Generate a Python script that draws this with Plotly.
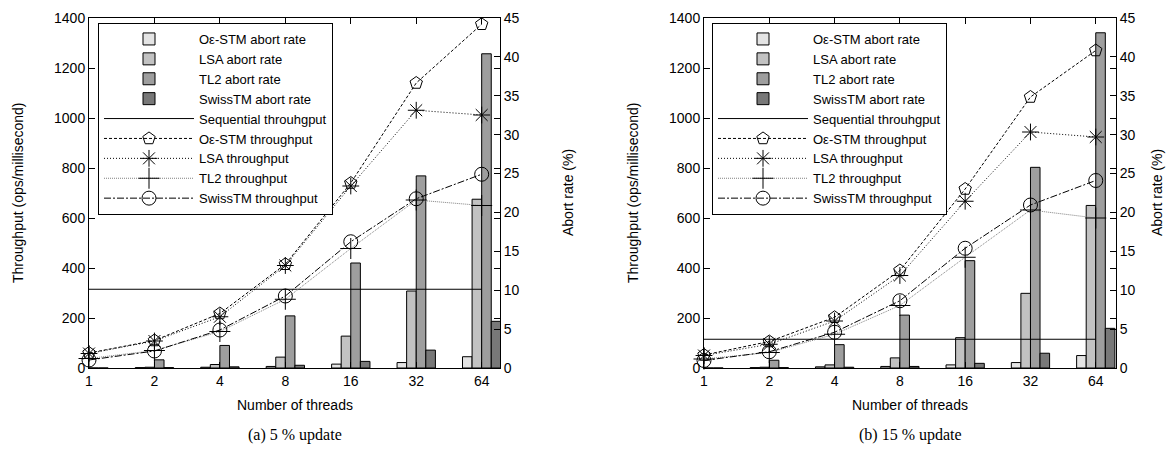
import plotly.graph_objects as go

threads = ["1", "2", "4", "8", "16", "32", "64"]
xi = list(range(len(threads)))

# (a) 5 % update
a_abort_oe = [0.0, 0.05, 0.1, 0.2, 0.5, 0.7, 1.45]
a_abort_lsa = [0.0, 0.1, 0.45, 1.4, 4.1, 9.9, 21.7]
a_abort_tl2 = [0.0, 1.05, 2.9, 6.7, 13.5, 24.7, 40.4]
a_abort_swiss = [0.0, 0.05, 0.15, 0.35, 0.85, 2.3, 6.0]
a_seq = 315
a_thr_oe = [60, 110, 218, 415, 740, 1140, 1375]
a_thr_lsa = [58, 108, 205, 410, 728, 1031, 1012]
a_thr_tl2 = [38, 70, 146, 275, 478, 672, 650]
a_thr_swiss = [32, 68, 152, 288, 505, 677, 775]

# (b) 15 % update
b_abort_oe = [0.0, 0.05, 0.15, 0.2, 0.4, 0.7, 1.6]
b_abort_lsa = [0.0, 0.1, 0.4, 1.3, 3.9, 9.6, 20.9]
b_abort_tl2 = [0.0, 1.0, 3.0, 6.8, 13.8, 25.8, 43.1]
b_abort_swiss = [0.0, 0.05, 0.1, 0.2, 0.6, 1.9, 5.1]
b_seq = 115
b_thr_oe = [52, 106, 203, 390, 716, 1084, 1270]
b_thr_lsa = [50, 95, 188, 370, 667, 944, 924]
b_thr_tl2 = [36, 62, 135, 250, 443, 632, 600]
b_thr_swiss = [30, 65, 143, 269, 479, 652, 750]

names_abort = ["O\u03b5-STM abort rate", "LSA abort rate", "TL2 abort rate", "SwissTM abort rate"]
names_thr = ["O\u03b5-STM throughput", "LSA throughput", "TL2 throughput", "SwissTM throughput"]
bar_colors = ["#e4e4e4", "#c2c2c2", "#9e9e9e", "#787878"]
line_styles = [
    dict(color="black", width=1, dash="3px,2px"),
    dict(color="black", width=1, dash="1px,2px"),
    dict(color="#808080", width=1, dash="1px,1px"),
    dict(color="black", width=1, dash="7px,2px,2px,2px"),
]
symbols = ["pentagon-open", "asterisk-open", "cross-thin-open", "circle-open"]
msizes = [13, 14, 15, 14]

FONT = "Liberation Sans"
fig = go.Figure()

panels = [
    ("x", "y", "y2", "legend",
     [a_abort_oe, a_abort_lsa, a_abort_tl2, a_abort_swiss], a_seq,
     [a_thr_oe, a_thr_lsa, a_thr_tl2, a_thr_swiss]),
    ("x2", "y3", "y4", "legend2",
     [b_abort_oe, b_abort_lsa, b_abort_tl2, b_abort_swiss], b_seq,
     [b_thr_oe, b_thr_lsa, b_thr_tl2, b_thr_swiss]),
]

for xa, ya_abort, ya_thr, leg, aborts, seq, thrs in panels:
    for name, vals, col in zip(names_abort, aborts, bar_colors):
        fig.add_trace(go.Bar(
            x=xi, y=vals, name=name, xaxis=xa, yaxis=ya_abort, legend=leg,
            marker=dict(color=col, line=dict(color="black", width=1)),
        ))
    fig.add_trace(go.Scatter(
        x=[xi[0], xi[-1]], y=[seq, seq], name="Sequential throuhgput",
        xaxis=xa, yaxis=ya_thr, legend=leg, mode="lines",
        line=dict(color="black", width=1), cliponaxis=False,
    ))
    for name, vals, ls, sym, ms in zip(names_thr, thrs, line_styles, symbols, msizes):
        fig.add_trace(go.Scatter(
            x=xi, y=vals, name=name, xaxis=xa, yaxis=ya_thr, legend=leg,
            mode="lines+markers", line=ls, cliponaxis=False,
            marker=dict(symbol=sym, size=ms, color="black",
                        line=dict(color="black", width=1)),
        ))

W, H = 1167, 454
T, B = 18, 86
PH = H - T - B


def px(x):
    return x / W


def py(y):
    return (H - B - y) / PH


tickfont = dict(family=FONT, size=14, color="black")
xcommon = dict(
    tickvals=xi, ticktext=threads, showline=True, linecolor="black", linewidth=1,
    mirror="ticks", ticks="inside", ticklen=6, tickcolor="black", showgrid=False,
    zeroline=False, tickfont=tickfont, automargin=False,
)
ythr = dict(
    range=[0, 1400], dtick=200, side="left", showline=True, linecolor="black",
    linewidth=1, mirror="ticks", ticks="inside", ticklen=6, tickcolor="black",
    showgrid=False, zeroline=False, tickfont=tickfont, automargin=False,
)
yab = dict(
    range=[0, 45], dtick=5, side="right", showline=True, linecolor="black",
    linewidth=1, ticks="inside", ticklen=6, tickcolor="black", showgrid=False,
    zeroline=False, tickfont=tickfont, automargin=False,
)

legcommon = dict(
    xanchor="left", yanchor="top", bgcolor="white", bordercolor="black",
    borderwidth=1, font=dict(family=FONT, size=13, color="black"),
    traceorder="normal", tracegroupgap=0, itemwidth=90,
)

fig.update_layout(
    template="none",
    width=W, height=H, margin=dict(l=0, r=0, t=T, b=B, autoexpand=False),
    paper_bgcolor="white", plot_bgcolor="white",
    barmode="group", bargap=0.414, bargroupgap=0,
    font=dict(family=FONT, size=14, color="black"),
    xaxis=dict(domain=[px(89), px(500)], range=[0, 6.28], anchor="y", **xcommon),
    xaxis2=dict(domain=[px(704), px(1116)], range=[0, 6.31], anchor="y3", **xcommon),
    yaxis=dict(anchor="x", **yab),
    yaxis2=dict(anchor="x", overlaying="y", **ythr),
    yaxis3=dict(anchor="x2", **yab),
    yaxis4=dict(anchor="x2", overlaying="y3", **ythr),
    legend=dict(x=px(98), y=py(23), **legcommon),
    legend2=dict(x=px(712), y=py(23), **legcommon),
    showlegend=True,
)

ann = []
for cx, ylab_x, y2lab_x, cap in [
    ((89 + 500) / 2, 18, 568, "(a) 5 % update"),
    ((704 + 1116) / 2, 633, 1157, "(b) 15 % update"),
]:
    ann.append(dict(text="Number of threads", x=px(cx), y=py(405), xref="paper", yref="paper",
                    showarrow=False, xanchor="center", yanchor="middle",
                    font=dict(family=FONT, size=14, color="black")))
    ann.append(dict(text=cap, x=px(cx), y=py(435), xref="paper", yref="paper",
                    showarrow=False, xanchor="center", yanchor="middle",
                    font=dict(family="Liberation Serif", size=16, color="black")))
    ann.append(dict(text="Throughput (ops/millisecond)", x=px(ylab_x), y=py(193),
                    xref="paper", yref="paper", showarrow=False, textangle=-90,
                    xanchor="center", yanchor="middle",
                    font=dict(family=FONT, size=14, color="black")))
    ann.append(dict(text="Abort rate (%)", x=px(y2lab_x), y=py(193),
                    xref="paper", yref="paper", showarrow=False, textangle=-90,
                    xanchor="center", yanchor="middle",
                    font=dict(family=FONT, size=14, color="black")))
fig.update_layout(annotations=ann)

fig.write_html(
    "out.html",
    config={"displayModeBar": False},
    post_script="document.body.style.margin='0';document.body.style.overflow='hidden';",
)
